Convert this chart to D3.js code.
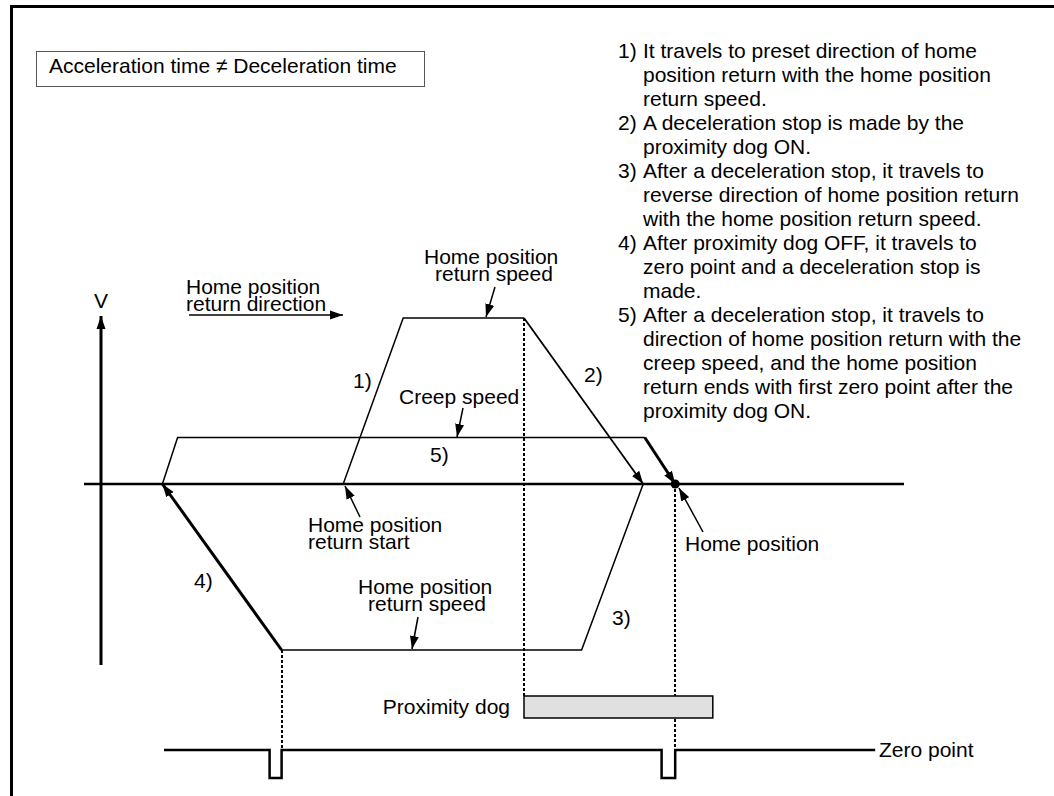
<!DOCTYPE html>
<head>
  <meta charset="utf-8">
  <script src="https://d3js.org/d3.v7.min.js"></script>
  <style>
    body { margin:0; background:#fff; }
    text { font-family: "Liberation Sans", Arial, sans-serif; font-size: 21px; fill: #000; }
  </style>
</head>
<body>
<script>
// positions along the travel axis (arbitrary units), speeds as fraction of return speed
var forwardRun = [[30.4, 0], [37.9, 1], [53, 1], [67.9, 0]];        // 1) and 2)
var reverseRun = [[67.9, 0], [60.2, -1], [22.7, -1], [7.8, 0]];     // 3) and 4)
var creepRun   = [[7.8, 0], [9.7, 0.28], [68.1, 0.28], [71.9, 0]];   // 5)
var homePos    = 71.9;
var dogRange   = [53, 76.6];
var zeroSpan   = [8, 96.9];
var zeroPulses = [[21.2, 22.7], [70.2, 71.9]];

var notes = [
  ["1)", "It travels to preset direction of home"],
  ["", "position return with the home position"],
  ["", "return speed."],
  ["2)", "A deceleration stop is made by the"],
  ["", "proximity dog ON."],
  ["3)", "After a deceleration stop, it travels to"],
  ["", "reverse direction of home position return"],
  ["", "with the home position return speed."],
  ["4)", "After proximity dog OFF, it travels to"],
  ["", "zero point and a deceleration stop is"],
  ["", "made."],
  ["5)", "After a deceleration stop, it travels to"],
  ["", "direction of home position return with the"],
  ["", "creep speed, and the home position"],
  ["", "return ends with first zero point after the"],
  ["", "proximity dog ON."]
];

var width = 1054, height = 796;
var svg = d3.select("body").append("svg")
  .attr("width", width).attr("height", height);

var x = d3.scaleLinear().domain([0, 100]).range([100, 900]);
var y = d3.scaleLinear().domain([-1, 1]).range([650, 318]);
var ySig = d3.scaleLinear().domain([0, 1]).range([778, 750]);

var line = d3.line().x(function(d) { return x(d[0]); }).y(function(d) { return y(d[1]); });

var defs = svg.append("defs");
defs.append("marker").attr("id", "arr")
  .attr("markerUnits", "userSpaceOnUse")
  .attr("viewBox", "0 -5 13 10")
  .attr("markerWidth", 13).attr("markerHeight", 10)
  .attr("refX", 13).attr("refY", 0).attr("orient", "auto")
  .append("path").attr("d", "M0,-4.5L13,0L0,4.5Z").attr("fill", "#000");

// frame
svg.append("path").attr("d", "M11.5,796V6.5H1054")
  .attr("fill", "none").attr("stroke", "#000").attr("stroke-width", 3);

// condition box
svg.append("rect").attr("x", 36.5).attr("y", 51.5).attr("width", 388).attr("height", 35)
  .attr("fill", "none").attr("stroke", "#555").attr("stroke-width", 1);
svg.append("text").attr("x", 49).attr("y", 73).text("Acceleration time \u2260 Deceleration time");

// notes
notes.forEach(function(n, i) {
  var yy = 58 + i * 24;
  if (n[0]) svg.append("text").attr("x", 618).attr("y", yy).text(n[0]);
  svg.append("text").attr("x", 643).attr("y", yy).text(n[1]);
});

// two-line label as one text element
function label2(x0, y0, lines, dx2) {
  var t = svg.append("text").attr("x", x0).attr("y", y0);
  t.append("tspan").attr("x", x0).attr("y", y0).text(lines[0]);
  t.append("tspan").attr("x", x0 + (dx2 || 0)).attr("y", y0 + 17).text(lines[1]);
}

// axes
svg.append("line").attr("x1", x(0) + 1).attr("x2", x(0) + 1).attr("y1", 665).attr("y2", 316)
  .attr("stroke", "#000").attr("stroke-width", 3).attr("marker-end", "url(#arr)");
svg.append("text").attr("x", x(0) + 1).attr("y", 308).attr("text-anchor", "middle").text("V");
svg.append("line").attr("x1", x(-2)).attr("x2", x(100.5)).attr("y1", y(0)).attr("y2", y(0))
  .attr("stroke", "#000").attr("stroke-width", 2.5);

// direction arrow
label2(186, 294, ["Home position", "return direction"]);
svg.append("line").attr("x1", 189).attr("x2", 343).attr("y1", 315).attr("y2", 315)
  .attr("stroke", "#000").attr("stroke-width", 1.5).attr("marker-end", "url(#arr)");

// dotted guides
function dotted(px, y1, y2) {
  svg.append("line").attr("x1", Math.round(px)).attr("x2", Math.round(px)).attr("y1", y1).attr("y2", y2)
    .attr("stroke", "#000").attr("stroke-width", 2).attr("stroke-dasharray", "3,2");
}
dotted(x(forwardRun[2][0]), y(1), 697);
dotted(x(homePos), y(0), ySig(1));
dotted(x(reverseRun[2][0]), y(-1), ySig(1));

// speed profiles
svg.append("path").attr("d", line(forwardRun.slice(0, 3)))
  .attr("fill", "none").attr("stroke", "#000").attr("stroke-width", 1.5);
svg.append("path").attr("d", line(forwardRun.slice(2)))
  .attr("fill", "none").attr("stroke", "#000").attr("stroke-width", 1.8).attr("marker-end", "url(#arr)");

svg.append("path").attr("d", line(reverseRun.slice(0, 3)))
  .attr("fill", "none").attr("stroke", "#000").attr("stroke-width", 1.5);
svg.append("path").attr("d", line(reverseRun.slice(2)))
  .attr("fill", "none").attr("stroke", "#000").attr("stroke-width", 3).attr("marker-end", "url(#arr)");

svg.append("path").attr("d", line(creepRun.slice(0, 3)))
  .attr("fill", "none").attr("stroke", "#000").attr("stroke-width", 1.5);
svg.append("path").attr("d", line(creepRun.slice(2)))
  .attr("fill", "none").attr("stroke", "#000").attr("stroke-width", 3).attr("marker-end", "url(#arr)");

svg.append("circle").attr("cx", x(homePos)).attr("cy", y(0)).attr("r", 4.5).attr("fill", "#000");

// labels with pointer arrows
function pointer(x1, y1, x2, y2) {
  svg.append("line").attr("x1", x1).attr("y1", y1).attr("x2", x2).attr("y2", y2)
    .attr("stroke", "#000").attr("stroke-width", 1.5).attr("marker-end", "url(#arr)");
}
label2(424, 264, ["Home position", "return speed"], 11);
pointer(495, 287, 486, 317);

svg.append("text").attr("x", 399).attr("y", 404).text("Creep speed");
pointer(463, 408, 457, 437);

label2(308, 532, ["Home position", "return start"]);
pointer(360, 517, 345, 486);

label2(358, 594, ["Home position", "return speed"], 10);
pointer(418, 617, 412, 649);

svg.append("text").attr("x", 685).attr("y", 551).text("Home position");
pointer(703, 532, 679, 488);

// step numbers
svg.append("text").attr("x", 353).attr("y", 388).text("1)");
svg.append("text").attr("x", 584).attr("y", 382).text("2)");
svg.append("text").attr("x", 612).attr("y", 625).text("3)");
svg.append("text").attr("x", 194).attr("y", 588).text("4)");
svg.append("text").attr("x", 430).attr("y", 462).text("5)");

// proximity dog
svg.append("rect").attr("x", x(dogRange[0])).attr("y", 696)
  .attr("width", x(dogRange[1]) - x(dogRange[0])).attr("height", 22)
  .attr("fill", "#e0e0e0").attr("stroke", "#000").attr("stroke-width", 1.5);
svg.append("text").attr("x", 510).attr("y", 714).attr("text-anchor", "end").text("Proximity dog");

// zero point signal
var sig = [[zeroSpan[0], 1]];
zeroPulses.forEach(function(p) {
  sig.push([p[0], 1], [p[0], 0], [p[1], 0], [p[1], 1]);
});
sig.push([zeroSpan[1], 1]);
svg.append("path")
  .attr("d", d3.line().x(function(d) { return x(d[0]); }).y(function(d) { return ySig(d[1]); })(sig))
  .attr("fill", "none").attr("stroke", "#000").attr("stroke-width", 2.5);
svg.append("text").attr("x", 879).attr("y", 757).text("Zero point");
</script>
</body>
